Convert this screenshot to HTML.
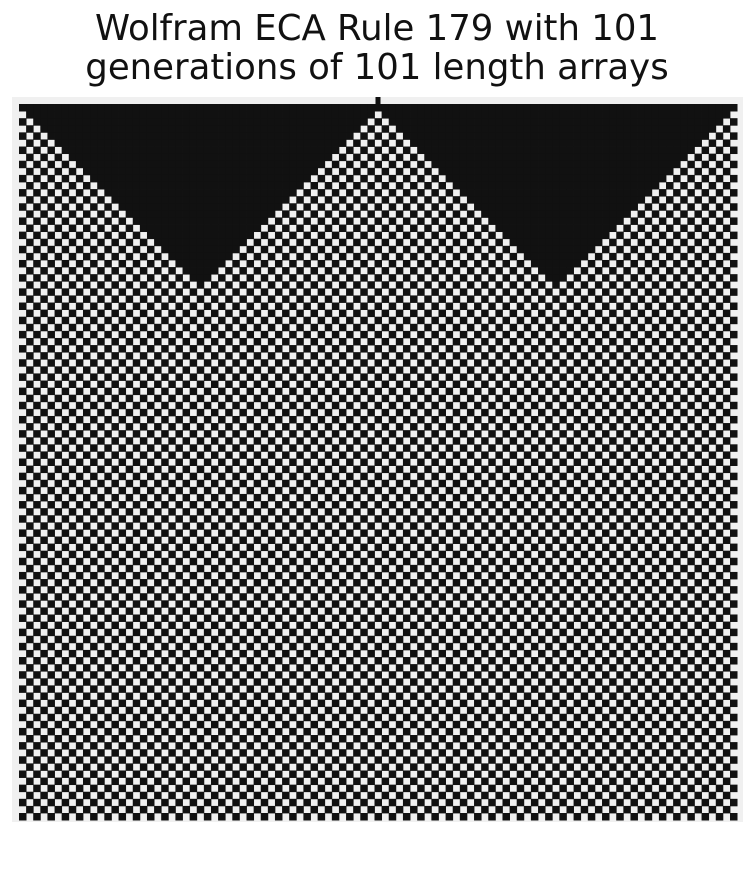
<!DOCTYPE html>
<html>
<head>
<meta charset="utf-8">
<style>
  html, body { margin:0; padding:0; background:#ffffff; }
  body { width:755px; height:875px; overflow:hidden; font-family:"Liberation Sans", "DejaVu Sans", sans-serif; }
</style>
</head>
<body>
<svg id="chart" width="755" height="875" viewBox="0 0 755 875" xmlns="http://www.w3.org/2000/svg">
  <rect x="0" y="0" width="755" height="875" fill="#ffffff"/>
  <text x="377" y="40" text-anchor="middle" font-size="35.5" fill="#111" font-family="DejaVu Sans, Liberation Sans, sans-serif">Wolfram ECA Rule 179 with 101</text>
  <text x="377" y="79" text-anchor="middle" font-size="35.5" fill="#111" font-family="DejaVu Sans, Liberation Sans, sans-serif">generations of 101 length arrays</text>
  <rect x="12" y="97" width="731" height="725" fill="#f0f0f0"/>
  <g id="cells"></g>
</svg>
<script>
// Data
const generations = 101;
const arrayLength = 101;
const seedColumns = [0, 50, 100];
const centerTickColumn = 50;

// Layout
const x0 = 19, y0 = 104, cw = 7.11, ch = 7.09;
const DARK = '#111111';
const svgNS = 'http://www.w3.org/2000/svg';
const g = document.getElementById('cells');

function xScale(c) { return x0 + c * cw; }
function yScale(r) { return y0 + r * ch; }

function isLight(r, c) {
  if (r === 0) return false;
  let inCone = false;
  for (const s of seedColumns) {
    if (Math.abs(c - s) < r) { inCone = true; break; }
  }
  if (!inCone) return false;
  return ((c + r) % 2) === 1;
}

for (let r = 0; r < generations; r++) {
  for (let c = 0; c < arrayLength; c++) {
    if (isLight(r, c)) continue;
    const rect = document.createElementNS(svgNS, 'rect');
    rect.setAttribute('x', xScale(c).toFixed(2));
    rect.setAttribute('y', yScale(r).toFixed(2));
    rect.setAttribute('width', (cw + 0.4).toFixed(2));
    rect.setAttribute('height', (ch + 0.4).toFixed(2));
    rect.setAttribute('fill', DARK);
    
    
    g.appendChild(rect);
  }
}

// center tick mark above first row
const tick = document.createElementNS(svgNS, 'rect');
tick.setAttribute('x', (xScale(centerTickColumn) + 1).toFixed(2));
tick.setAttribute('y', '97');
tick.setAttribute('width', '5');
tick.setAttribute('height', '7');
tick.setAttribute('fill', DARK);


g.appendChild(tick);
</script>
</body>
</html>
